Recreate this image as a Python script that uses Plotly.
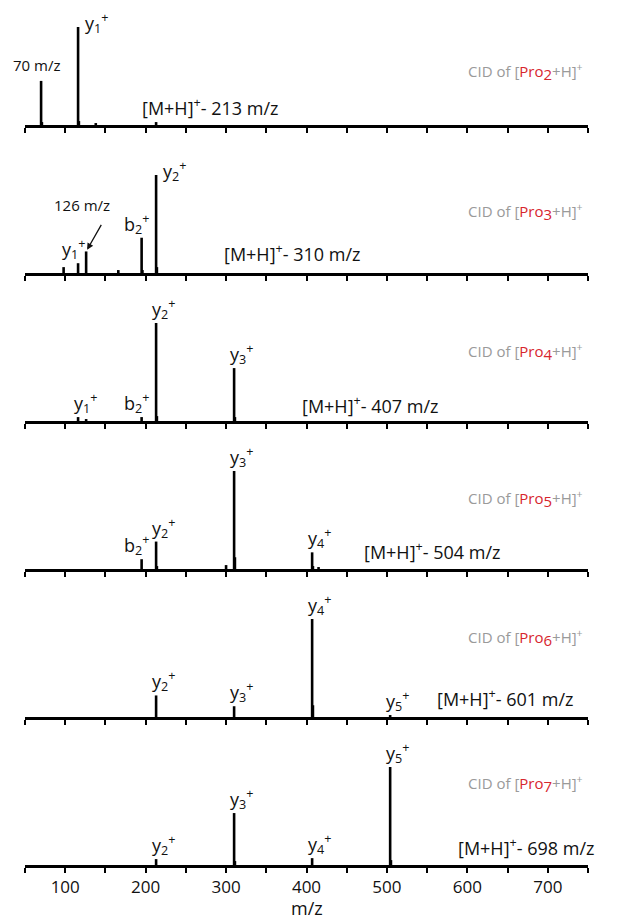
import plotly.graph_objects as go

# ---------------- data ----------------
panel_names = ["2", "3", "4", "5", "6", "7"]
precursor_mz = [213, 310, 407, 504, 601, 698]

# stick spectra (m/z, relative intensity %)
mz_p2 = [70, 71, 116, 117, 138, 213]
int_p2 = [45, 3, 100, 4, 2, 3]

mz_p3 = [98, 116, 126, 166, 195, 196, 213, 214]
int_p3 = [6, 10, 22, 3, 36, 3, 100, 6]

mz_p4 = [116, 126, 195, 213, 214, 310, 311]
int_p4 = [4, 2, 4, 100, 5, 54, 4]

mz_p5 = [195, 213, 214, 300, 310, 311, 407, 408, 415]
int_p5 = [10, 28, 3, 4, 100, 12, 17, 3, 2]

mz_p6 = [213, 310, 407, 408, 504]
int_p6 = [22, 11, 100, 12, 2]

mz_p7 = [213, 310, 311, 407, 504, 505]
int_p7 = [6, 53, 4, 7, 100, 5]

# fragment labels: (ion, index, m/z, intensity of labelled peak)
labels_p2 = [("y", "1", 116, 100)]
labels_p3 = [("y", "1", 116, 10), ("b", "2", 195, 36), ("y", "2", 213, 100)]
labels_p4 = [("y", "1", 116, 4), ("b", "2", 195, 4), ("y", "2", 213, 100), ("y", "3", 310, 54)]
labels_p5 = [("b", "2", 195, 10), ("y", "2", 213, 28), ("y", "3", 310, 100), ("y", "4", 407, 17)]
labels_p6 = [("y", "2", 213, 22), ("y", "3", 310, 11), ("y", "4", 407, 100), ("y", "5", 504, 2)]
labels_p7 = [("y", "2", 213, 6), ("y", "3", 310, 53), ("y", "4", 407, 7), ("y", "5", 504, 100)]

x_tick_vals = [50, 100, 150, 200, 250, 300, 350, 400, 450, 500, 550, 600, 650, 700, 750]
x_tick_text = ["", "100", "", "200", "", "300", "", "400", "", "500", "", "600", "", "700", ""]
x_title = "m/z"

# ---------------- layout geometry ----------------
OFF = 8                     # page body margin
W, H = 622 - OFF, 920 - OFF
X0, X1 = 25, 588
baselines = [125, 273, 421, 569, 717, 865]
peak_px = 98
cid_y = [72, 212, 352, 499, 638, 784]
prec_left = [140, 222, 300, 362, 435, 456]
prec_y = [107, 253, 405, 551, 698, 847]


def px(x):
    return (x - OFF) / W


def py(y):
    return 1 - (y - OFF) / H


spectra = [(mz_p2, int_p2), (mz_p3, int_p3), (mz_p4, int_p4),
           (mz_p5, int_p5), (mz_p6, int_p6), (mz_p7, int_p7)]
all_labels = [labels_p2, labels_p3, labels_p4, labels_p5, labels_p6, labels_p7]

FONT = "Open Sans"
fig = go.Figure()
annotations = []
layout = dict(
    width=W, height=H, margin=dict(l=0, r=0, t=0, b=0),
    paper_bgcolor="white", plot_bgcolor="white", showlegend=False,
    font=dict(family=FONT, color="#111", size=16),
)

for i, (mz, inten) in enumerate(spectra):
    n = "" if i == 0 else str(i + 1)
    xs, ys = [], []
    for m, v in zip(mz, inten):
        xs += [m, m, None]
        ys += [0, v, None]
    fig.add_trace(go.Scatter(x=xs, y=ys, mode="lines", xaxis="x" + n, yaxis="y" + n,
                             line=dict(color="black", width=2.6), hoverinfo="skip"))
    b = baselines[i]
    last = i == len(spectra) - 1
    layout["xaxis" + n] = dict(
        domain=[px(X0), px(X1)], range=[50, 750], anchor="y" + n,
        showline=True, linewidth=3, linecolor="black", mirror=False,
        ticks="outside", ticklen=5, tickwidth=2, tickcolor="black",
        tickmode="array", tickvals=x_tick_vals, ticktext=x_tick_text,
        showticklabels=last, showgrid=False, zeroline=False,
        tickfont=dict(family=FONT, size=17, color="#111"),
    )
    layout["yaxis" + n] = dict(
        domain=[py(b), py(b - peak_px)], range=[0, 100], anchor="x" + n,
        visible=False, showgrid=False, zeroline=False,
    )
    # fragment labels
    for (ion, idx, m, v) in all_labels[i]:
        dx = -5 if ion == "b" else 7
        dy = 14
        if (i == 0 and m == 116) or (i == 1 and m == 213):
            dx, dy = 18, 4
        if i == 1 and m == 116:
            dx = -5
        annotations.append(dict(
            text=f"{ion}<sub>{idx}</sub><sup>+</sup>", x=m, y=v, xref="x" + n, yref="y" + n,
            showarrow=False, xanchor="center", yanchor="middle", xshift=dx, yshift=dy,
            font=dict(family=FONT, size=18, color="#111")))
    # precursor label
    annotations.append(dict(
        text=f"[M+H]<sup>+</sup>- {precursor_mz[i]} m/z",
        x=px(prec_left[i]), y=py(prec_y[i]), xref="paper", yref="paper",
        xanchor="left", yanchor="middle", showarrow=False,
        font=dict(family=FONT, size=18, color="#111")))
    # CID label
    annotations.append(dict(
        text=("CID of [<span style='color:#d7262d'>Pro<sub><span style='font-size:15px'>"
              + panel_names[i] + "</span></sub></span>+H]<sup>+</sup>"),
        x=px(585), y=py(cid_y[i]), xref="paper", yref="paper",
        xanchor="right", yanchor="middle", showarrow=False,
        font=dict(family=FONT, size=15, color="#9a9a9a")))

# axis title
annotations.append(dict(text=x_title, x=400, y=py(908), xref="x6", yref="paper",
                        showarrow=False, xanchor="center", yanchor="middle",
                        font=dict(family=FONT, size=18, color="#111")))

# special labels
annotations.append(dict(text="70 m/z", x=70, y=45, xref="x", yref="y", showarrow=False,
                        xanchor="center", yanchor="bottom", xshift=-5, yshift=4,
                        font=dict(family=FONT, size=15, color="#111")))
annotations.append(dict(text="126 m/z", x=126, y=22, xref="x2", yref="y2", showarrow=False,
                        xanchor="center", yanchor="bottom", xshift=-4, yshift=34,
                        font=dict(family=FONT, size=15, color="#111")))
annotations.append(dict(text="", x=126, y=22, xref="x2", yref="y2", showarrow=True,
                        ax=16, ay=-28, arrowhead=2, arrowsize=1, arrowwidth=1.3,
                        arrowcolor="#111", standoff=2))

layout["annotations"] = annotations
fig.update_layout(**layout)
fig.write_html("out.html")
